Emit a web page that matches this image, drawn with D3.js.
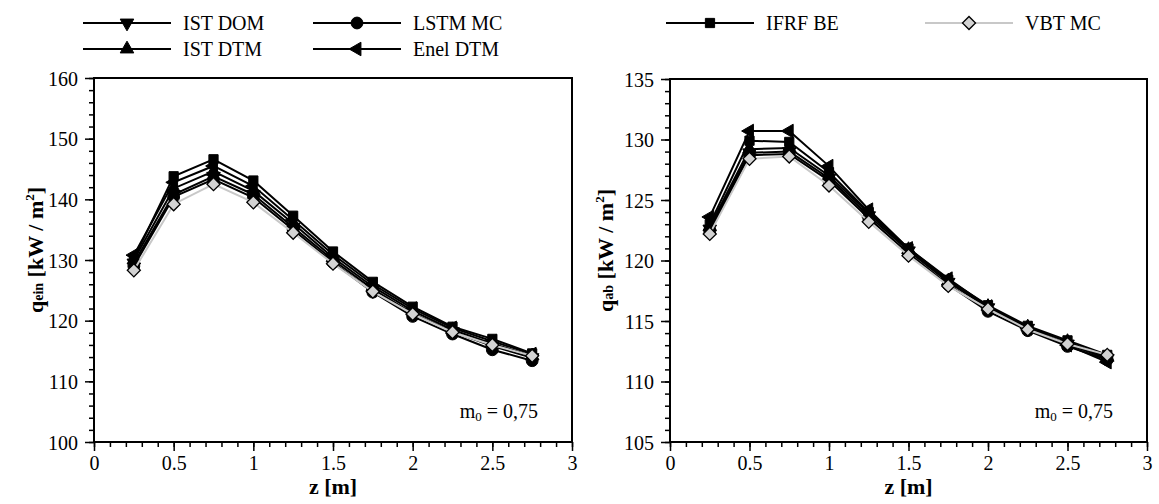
<!DOCTYPE html>
<html>
<head>
<meta charset="utf-8">
<script src="https://cdn.jsdelivr.net/npm/d3@7"></script>
<style>
  body { margin: 0; background: #fff; }
</style>
</head>
<body>
<script>
// z positions along the wall
const zValues = [0.25, 0.5, 0.75, 1.0, 1.25, 1.5, 1.75, 2.0, 2.25, 2.5, 2.75]

const seriesNames = ['IST DOM', 'IST DTM', 'LSTM MC', 'Enel DTM', 'IFRF BE', 'VBT MC']

// left panel, q_ein
const qEinIstDom  = [129.5, 140.8, 143.8, 140.8, 135.4, 130.0, 125.2, 121.2, 118.2, 115.8, 113.9]
const qEinIstDtm  = [130.0, 141.8, 144.6, 141.4, 136.0, 130.4, 125.6, 121.6, 118.5, 116.2, 114.2]
const qEinLstm    = [129.0, 140.4, 143.3, 140.3, 135.0, 129.6, 124.7, 120.7, 117.8, 115.2, 113.4]
const qEinEnel    = [130.8, 142.8, 145.5, 142.2, 136.6, 130.9, 126.0, 122.0, 118.8, 116.6, 114.5]
const qEinIfrf    = [130.2, 143.8, 146.6, 143.1, 137.3, 131.4, 126.4, 122.3, 119.0, 117.0, 114.6]
const qEinVbt     = [128.3, 139.2, 142.5, 139.5, 134.5, 129.4, 124.8, 121.1, 118.1, 116.0, 114.2]

// right panel, q_ab
const qAbIstDom  = [122.6, 128.9, 129.0, 126.8, 123.7, 120.8, 118.2, 116.1, 114.4, 113.1, 111.9]
const qAbIstDtm  = [122.8, 129.2, 129.3, 127.0, 123.9, 120.9, 118.3, 116.2, 114.5, 113.3, 112.0]
const qAbLstm    = [122.4, 128.7, 128.8, 126.6, 123.5, 120.6, 118.0, 115.8, 114.2, 112.9, 111.8]
const qAbEnel    = [123.6, 130.7, 130.7, 127.8, 124.2, 121.0, 118.5, 116.2, 114.4, 113.0, 111.6]
const qAbIfrf    = [123.0, 129.9, 129.8, 127.3, 124.0, 121.0, 118.4, 116.3, 114.6, 113.4, 112.2]
const qAbVbt     = [122.2, 128.4, 128.6, 126.2, 123.2, 120.4, 117.9, 116.0, 114.3, 113.1, 112.2]

const xTicks = [0, 0.5, 1, 1.5, 2, 2.5, 3]
const yTicksLeft = [100, 110, 120, 130, 140, 150, 160]
const yTicksRight = [105, 110, 115, 120, 125, 130, 135]

const SERIF = 'Liberation Serif'

const svg = d3.select('body').append('svg')
    .attr('width', 1159)
    .attr('height', 504)
    .attr('font-family', SERIF)

// marker style per series
const markers = {
    'IST DOM':  {type: d3.symbolTriangle, size: 80, rot: 180, fill: '#000', line: '#000'},
    'IST DTM':  {type: d3.symbolTriangle, size: 80, rot: 0, fill: '#000', line: '#000'},
    'LSTM MC':  {type: d3.symbolCircle, size: 110, rot: 0, fill: '#000', line: '#000'},
    'Enel DTM': {type: d3.symbolTriangle, size: 80, rot: -90, fill: '#000', line: '#000'},
    'IFRF BE':  {type: d3.symbolSquare, size: 85, rot: 0, fill: '#000', line: '#000'},
    'VBT MC':   {type: d3.symbolSquare, size: 85, rot: 45, fill: '#d3d3d3', line: '#c8c8c8'}
}

function drawMarker(g, name, x, y) {
    let m = markers[name]
    g.append('path')
        .attr('d', d3.symbol().type(m.type).size(m.size)())
        .attr('transform', `translate(${x},${y}) rotate(${m.rot})`)
        .attr('fill', m.fill)
        .attr('stroke', '#000')
        .attr('stroke-width', name == 'VBT MC' ? 1.3 : 1)
}

function panel(opts) {
    let x = d3.scaleLinear().domain([0, 3]).range([opts.left, opts.right])
    let y = d3.scaleLinear().domain(opts.yDomain).range([opts.bottom, opts.top])
    let g = svg.append('g')

    // minor ticks
    g.append('g')
        .attr('transform', `translate(0,${opts.bottom})`)
        .call(d3.axisBottom(x).tickValues(d3.range(0, 3.001, 0.1)).tickSize(5).tickFormat(''))
    g.append('g')
        .attr('transform', `translate(${opts.left},0)`)
        .call(d3.axisLeft(y).tickValues(d3.range(opts.yDomain[0], opts.yDomain[1] + 0.001, opts.yMinor)).tickSize(5).tickFormat(''))

    // major ticks
    let xa = g.append('g')
        .attr('transform', `translate(0,${opts.bottom})`)
        .call(d3.axisBottom(x).tickValues(xTicks).tickSize(9).tickPadding(5).tickFormat(d => d))
    let ya = g.append('g')
        .attr('transform', `translate(${opts.left},0)`)
        .call(d3.axisLeft(y).tickValues(opts.yTicks).tickSize(9).tickPadding(7).tickFormat(d => d))
    g.selectAll('g').attr('font-family', SERIF)
    g.selectAll('.domain').remove()
    g.selectAll('.tick line').attr('stroke', '#000').attr('stroke-width', 1.5)
    g.selectAll('.tick text').attr('font-family', SERIF).attr('font-size', 20).attr('fill', '#000')
    ya.selectAll('.tick text').attr('dy', '0.35em')

    // frame
    g.append('rect')
        .attr('x', opts.left).attr('y', opts.top)
        .attr('width', opts.right - opts.left).attr('height', opts.bottom - opts.top)
        .attr('fill', 'none').attr('stroke', '#000').attr('stroke-width', 2)

    let line = d3.line().x((d, i) => x(zValues[i])).y(d => y(d))

    opts.series.forEach((vals, k) => {
        let name = seriesNames[k]
        let sg = g.append('g')
        sg.append('path')
            .datum(vals)
            .attr('d', line)
            .attr('fill', 'none')
            .attr('stroke', markers[name].line)
            .attr('stroke-width', 2)
        vals.forEach((v, i) => drawMarker(sg, name, x(zValues[i]), y(v)))
    })

    // axis titles
    let cy = (opts.top + opts.bottom) / 2
    let t = g.append('text')
        .attr('transform', `translate(${opts.titleX},${cy - 10}) rotate(-90)`)
        .attr('text-anchor', 'middle')
        .attr('dominant-baseline', 'central')
        .attr('font-family', SERIF)
        .attr('font-size', 22)
        .attr('font-weight', 'bold')
    t.append('tspan').text('q')
    t.append('tspan').text(opts.sub).attr('font-size', 14).attr('baseline-shift', '-25%')
    t.append('tspan').text(' [kW / m')
    t.append('tspan').text('2').attr('font-size', 13).attr('baseline-shift', '45%')
    t.append('tspan').text(']')

    g.append('text')
        .attr('x', (opts.left + opts.right) / 2)
        .attr('y', 494)
        .attr('text-anchor', 'middle')
        .attr('font-family', SERIF)
        .attr('font-size', 22)
        .attr('font-weight', 'bold')
        .text('z [m]')

    // annotation
    let a = g.append('text')
        .attr('x', opts.right - 34)
        .attr('y', 418)
        .attr('text-anchor', 'end')
        .attr('font-family', SERIF)
        .attr('font-size', 20)
    a.append('tspan').text('m')
    a.append('tspan').text('0').attr('font-size', 13).attr('baseline-shift', '-25%')
    a.append('tspan').text(' = 0,75')
}

panel({left: 94, right: 572, top: 78, bottom: 442, yDomain: [100, 160], yMinor: 2,
    yTicks: yTicksLeft, sub: 'ein', titleX: 35,
    series: [qEinIstDom, qEinIstDtm, qEinLstm, qEinEnel, qEinIfrf, qEinVbt]})

panel({left: 670, right: 1147, top: 79, bottom: 442, yDomain: [105, 135], yMinor: 1,
    yTicks: yTicksRight, sub: 'ab', titleX: 605,
    series: [qAbIstDom, qAbIstDtm, qAbLstm, qAbEnel, qAbIfrf, qAbVbt]})

// legend
const legendPos = [
    {x: 83, y: 23}, {x: 83, y: 49}, {x: 313, y: 23}, {x: 313, y: 49}, {x: 666, y: 23}, {x: 925, y: 23}
]
let lg = svg.append('g')
seriesNames.forEach((name, k) => {
    let p = legendPos[k]
    lg.append('line')
        .attr('x1', p.x).attr('x2', p.x + 88)
        .attr('y1', p.y).attr('y2', p.y)
        .attr('stroke', markers[name].line)
        .attr('stroke-width', 2)
    drawMarker(lg, name, p.x + 44, p.y)
    lg.append('text')
        .attr('x', p.x + 100)
        .attr('y', p.y)
        .attr('dy', '0.35em')
        .attr('font-family', SERIF)
        .attr('font-size', 20)
        .text(name)
})
</script>
</body>
</html>
